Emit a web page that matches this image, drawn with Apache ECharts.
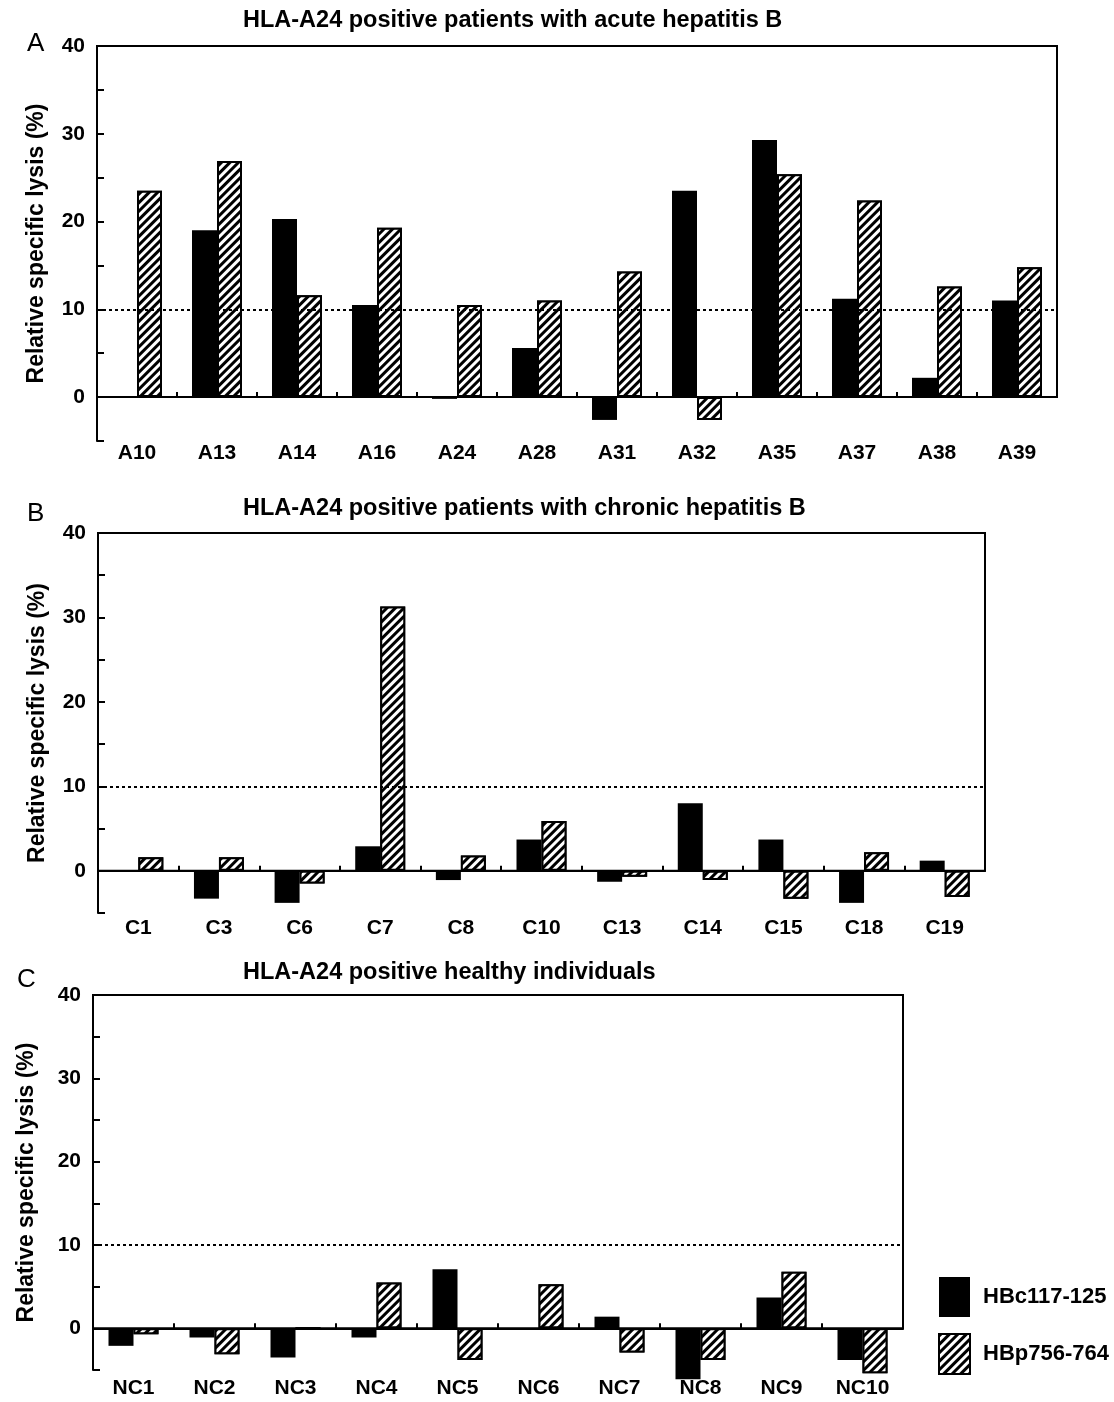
<!DOCTYPE html>
<html>
<head>
<meta charset="utf-8">
<script src="https://cdn.jsdelivr.net/npm/echarts@6/dist/echarts.min.js"></script>
<style>
html,body{margin:0;padding:0;background:#fff;}
#chart{width:1114px;height:1402px;}
</style>
</head>
<body>
<div id="chart"></div>
<script>
// ---------- data ----------
const seriesNames = ['HBc117-125', 'HBp756-764'];

const titleA = 'HLA-A24 positive patients with acute hepatitis B';
const catsA = ['A10','A13','A14','A16','A24','A28','A31','A32','A35','A37','A38','A39'];
const hbcA  = [0, 19.0, 20.3, 10.5, -0.2, 5.6, -2.6, 23.5, 29.3, 11.2, 2.2, 11.0];
const hbpA  = [23.5, 26.9, 11.6, 19.3, 10.5, 11.0, 14.3, -2.6, 25.4, 22.4, 12.6, 14.8];

const titleB = 'HLA-A24 positive patients with chronic hepatitis B';
const catsB = ['C1','C3','C6','C7','C8','C10','C13','C14','C15','C18','C19'];
const hbcB  = [-0.1, -3.3, -3.8, 2.9, -1.1, 3.7, -1.3, 8.0, 3.7, -3.8, 1.2];
const hbpB  = [1.6, 1.6, -1.5, 31.3, 1.8, 5.9, -0.7, -1.1, -3.3, 2.2, -3.1];

const titleC = 'HLA-A24 positive healthy individuals';
const catsC = ['NC1','NC2','NC3','NC4','NC5','NC6','NC7','NC8','NC9','NC10'];
const hbcC  = [-2.1, -1.1, -3.5, -1.1, 7.1, -0.2, 1.4, -6.1, 3.7, -3.8];
const hbpC  = [-0.7, -3.1, 0, 5.5, -3.8, 5.3, -2.9, -3.8, 6.8, -5.4];

const yTicks = [-5, 40, 5];      // min, max, interval
const threshold = 10;
const yName = 'Relative specific lysis (%)';
const panelLetters = ['A', 'B', 'C'];

// ---------- layout / style ----------
const FONT = '"Liberation Sans", Arial, Helvetica, sans-serif';
const panels = [
  {cats: catsA, hbc: hbcA, hbp: hbpA, title: titleA, letter: panelLetters[0],
   left: 97, top: 46, width: 960, height: 395, labelMargin: 2, nameGap: 49,
   titleTop: 4, letterLeft: 22, letterTop: 26},
  {cats: catsB, hbc: hbcB, hbp: hbpB, title: titleB, letter: panelLetters[1],
   left: 98, top: 533, width: 887, height: 380, labelMargin: 5, nameGap: 49,
   titleTop: 492, letterLeft: 22, letterTop: 496},
  {cats: catsC, hbc: hbcC, hbp: hbpC, title: titleC, letter: panelLetters[2],
   left: 93, top: 995, width: 810, height: 375, labelMargin: 8, nameGap: 55,
   titleTop: 956, letterLeft: 12, letterTop: 962}
];

const hatch = {
  symbol: 'rect',
  color: '#000',
  backgroundColor: '#fff',
  dashArrayX: [1, 0],
  dashArrayY: [3, 3],
  rotation: -Math.PI / 4,
  symbolSize: 1
};

const grid = [], xAxis = [], yAxis = [], series = [], title = [];

panels.forEach((p, i) => {
  const gMain = grid.length;
  grid.push({left: p.left, top: p.top, width: p.width, height: p.height,
             containLabel: false, outerBoundsMode: 'none', show: false});
  const rng = yTicks[1] - yTicks[0];
  const gBox = grid.length;
  grid.push({left: p.left, top: p.top, width: p.width,
             height: p.height * (yTicks[1] - 0) / rng,
             containLabel: false, outerBoundsMode: 'none',
             show: true, borderColor: '#000', borderWidth: 2, backgroundColor: 'transparent', z: 3});

  const xMain = xAxis.length;
  xAxis.push({
    gridIndex: gMain, type: 'category', data: p.cats, position: 'bottom',
    axisLine: {show: true, onZero: true, lineStyle: {color: '#000', width: 2}},
    axisTick: {show: true, inside: true, length: 5, lineStyle: {color: '#000', width: 2}},
    axisLabel: {show: false}, splitLine: {show: false}
  });
  xAxis.push({
    gridIndex: gMain, type: 'category', data: p.cats, position: 'bottom',
    axisLine: {show: false, onZero: false}, axisTick: {show: false},
    axisLabel: {show: true, interval: 0, margin: p.labelMargin, color: '#000',
                fontFamily: FONT, fontWeight: 'bold', fontSize: 21},
    splitLine: {show: false}
  });
  xAxis.push({gridIndex: gBox, type: 'value', show: false});

  const yMain = yAxis.length;
  yAxis.push({
    gridIndex: gMain, type: 'value', min: yTicks[0], max: yTicks[1], interval: yTicks[2],
    name: yName, nameLocation: 'middle', nameGap: p.nameGap, nameRotate: 90,
    nameTextStyle: {color: '#000', fontFamily: FONT, fontWeight: 'bold', fontSize: 23},
    axisLine: {show: true, onZero: false, lineStyle: {color: '#000', width: 2}},
    axisTick: {show: true, inside: true, length: 7, lineStyle: {color: '#000', width: 2}},
    axisLabel: {color: '#000', fontFamily: FONT, fontWeight: 'bold', fontSize: 21, margin: 12,
                formatter: v => (v >= 0 && v % 10 === 0) ? String(v) : ''},
    splitLine: {show: false}
  });
  yAxis.push({gridIndex: gBox, type: 'value', show: false});

  series.push({
    name: seriesNames[0], type: 'bar', xAxisIndex: xMain, yAxisIndex: yMain,
    data: p.hbc, barWidth: 25, barGap: '0%', clip: false,
    itemStyle: {color: '#000'},
    emphasis: {disabled: true},
    markLine: {
      silent: true, symbol: ['none', 'none'], label: {show: false},
      lineStyle: {color: '#000', width: 2, type: [3, 3]},
      data: [{yAxis: threshold}]
    }
  });
  series.push({
    name: seriesNames[1], type: 'bar', xAxisIndex: xMain, yAxisIndex: yMain,
    data: p.hbp, barWidth: 25, barGap: '0%', clip: false,
    itemStyle: {color: '#fff', borderColor: '#000', borderWidth: 2, decal: hatch},
    emphasis: {disabled: true}
  });

  title.push({text: p.title, left: 238, top: p.titleTop,
              textStyle: {color: '#000', fontFamily: FONT, fontWeight: 'bold', fontSize: 23.5}});
  title.push({text: p.letter, left: p.letterLeft, top: p.letterTop,
              textStyle: {color: '#000', fontFamily: FONT, fontWeight: 'normal', fontSize: 26}});
});

const chart = echarts.init(document.getElementById('chart'), null, {renderer: 'canvas'});
chart.setOption({
  animation: false,
  backgroundColor: '#fff',
  title: title,
  grid: grid,
  xAxis: xAxis,
  yAxis: yAxis,
  legend: {
    data: seriesNames, orient: 'vertical', left: 933, top: 1272,
    itemWidth: 31, itemHeight: 40, itemGap: 16, icon: 'rect', selectedMode: false,
    textStyle: {color: '#000', fontFamily: FONT, fontWeight: 'bold', fontSize: 22, padding: [0, 0, 0, 8]}
  },
  series: series
});
</script>
</body>
</html>
